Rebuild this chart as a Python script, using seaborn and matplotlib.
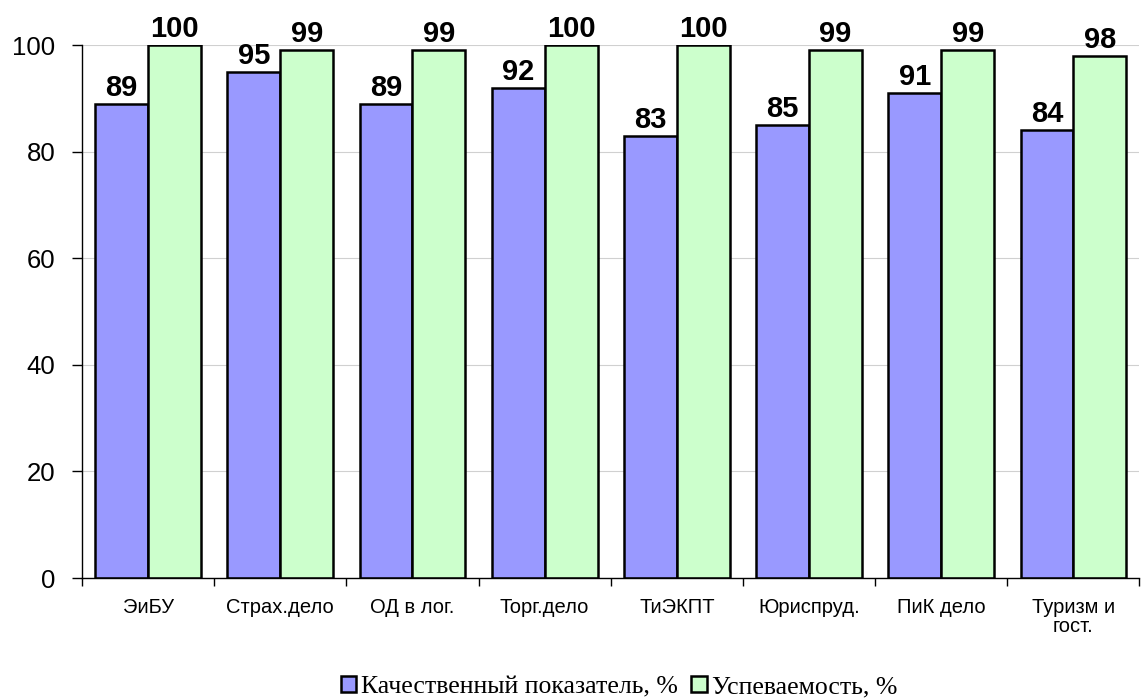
import matplotlib
matplotlib.use("Agg")
import matplotlib.pyplot as plt
import seaborn as sns
import pandas as pd
import numpy as np

categories = ["ЭиБУ", "Страх.дело", "ОД в лог.", "Торг.дело", "ТиЭКПТ", "Юриспруд.", "ПиК дело", "Туризм и\nгост."]
quality = [89, 95, 89, 92, 83, 85, 91, 84]
progress = [100, 99, 99, 100, 100, 99, 99, 98]
series_names = ["Качественный показатель, %", "Успеваемость, %"]
yticks = [0, 20, 40, 60, 80, 100]

df = pd.DataFrame({
    "cat": categories * 2,
    "val": quality + progress,
    "series": [series_names[0]] * len(categories) + [series_names[1]] * len(categories),
})

sns.set_theme(style="white", rc={"text.color": "black", "xtick.color": "black",
                                 "ytick.color": "black", "axes.labelcolor": "black"})
plt.rcParams['font.family'] = ['Liberation Sans', 'DejaVu Sans']

fig = plt.figure(figsize=(11.42, 6.99), dpi=100)
ax = fig.add_axes([0.0718, 0.173, 0.926, 0.7626])

palette = {series_names[0]: "#9999FF", series_names[1]: "#CCFFCC"}
sns.barplot(data=df, x="cat", y="val", hue="series", palette=palette, ax=ax,
            width=0.8, edgecolor="black", linewidth=1.8, saturation=1, legend=True)

for cont in ax.containers:
    ax.bar_label(cont, fmt="%d", fontsize=21, fontweight="bold", padding=1.5, color="black")

ax.set_ylim(0, 100)
ax.set_xlim(-0.5, len(categories) - 0.5)
ax.set_yticks(yticks)
ax.tick_params(axis="y", labelsize=18.5, length=7, width=1, color="black", direction="out", left=True, pad=12)
ax.yaxis.grid(True, color="#d0d0d0", linewidth=0.8)
ax.set_axisbelow(True)
ax.tick_params(axis="x", which="major", length=0, labelsize=14.5, pad=14)
ax.set_xticks(np.arange(-0.5, len(categories) - 0.4, 1), minor=True)
ax.tick_params(axis="x", which="minor", length=6, width=1, color="black", direction="out", bottom=True)
ax.set_xlabel("")
ax.set_ylabel("")
for lbl in ax.get_xticklabels():
    lbl.set_linespacing(1.05)
for s in ["top", "right"]:
    ax.spines[s].set_visible(False)
for s in ["left", "bottom"]:
    ax.spines[s].set_color("black")
    ax.spines[s].set_linewidth(1)

handles, labels = ax.get_legend_handles_labels()
ax.legend_.remove()
fig.legend(handles, labels, loc="lower center", bbox_to_anchor=(0.542, -0.028), ncol=2,
           frameon=False, prop={"family": "Liberation Serif", "size": 18.5},
           handlelength=0.6, handleheight=0.6, handletextpad=0.2, columnspacing=0.5,
           borderpad=0.3)

fig.savefig("out.png", dpi=100)
